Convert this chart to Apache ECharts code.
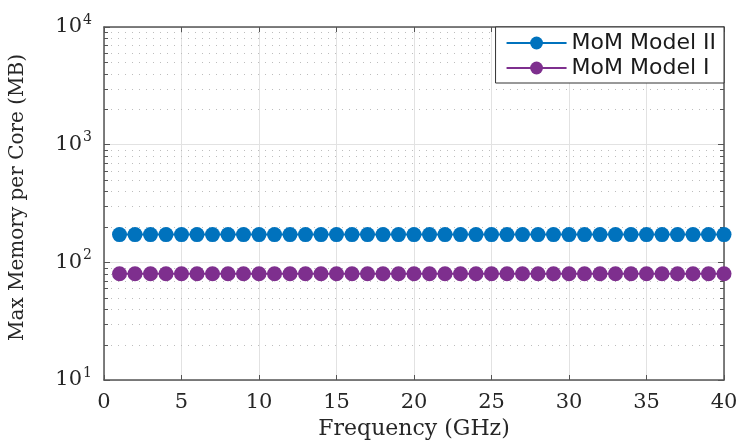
<!DOCTYPE html>
<html>
<head>
<meta charset="utf-8">
<script src="https://cdn.jsdelivr.net/npm/echarts@6/dist/echarts.min.js"></script>
<style>
  html, body { margin: 0; padding: 0; background: #fff; }
  #chart { width: 739px; height: 440px; }
</style>
</head>
<body>
<div id="chart"></div>
<script>
// Frequency samples (GHz)
const frequency = [1, 2, 3, 4, 5, 6, 7, 8, 9, 10, 11, 12, 13, 14, 15, 16, 17, 18, 19, 20,
                   21, 22, 23, 24, 25, 26, 27, 28, 29, 30, 31, 32, 33, 34, 35, 36, 37, 38, 39, 40];

// Maximum memory per core (MB)
const modelII = [172, 172, 172, 172, 172, 172, 172, 172, 172, 172, 172, 172, 172, 172, 172, 172, 172, 172, 172, 172,
                 172, 172, 172, 172, 172, 172, 172, 172, 172, 172, 172, 172, 172, 172, 172, 172, 172, 172, 172, 172];
const modelI = [80, 80, 80, 80, 80, 80, 80, 80, 80, 80, 80, 80, 80, 80, 80, 80, 80, 80, 80, 80,
                80, 80, 80, 80, 80, 80, 80, 80, 80, 80, 80, 80, 80, 80, 80, 80, 80, 80, 80, 80];

const seriesNames = ['MoM Model II', 'MoM Model I'];
const xTicks = [0, 5, 10, 15, 20, 25, 30, 35, 40];
const yDecades = [10, 100, 1000, 10000];
// log-decade minor grid positions
const yMinor = [20, 30, 40, 50, 60, 70, 80, 90,
                200, 300, 400, 500, 600, 700, 800, 900,
                2000, 3000, 4000, 5000, 6000, 7000, 8000, 9000];

const axisColor = '#555555';
const textColor = '#262626';
const serif = '"DejaVu Serif", "Liberation Serif", serif';

const chart = echarts.init(document.getElementById('chart'), null, { renderer: 'canvas' });

const option = {
  animation: false,
  backgroundColor: '#ffffff',
  grid: { left: 104, right: 15, top: 27, bottom: 60, containLabel: false, outerBoundsMode: 'none' },
  legend: {
    data: seriesNames,
    orient: 'vertical',
    right: 15,
    top: 27,
    backgroundColor: '#ffffff',
    borderColor: '#333333',
    borderWidth: 1,
    borderRadius: 0,
    padding: [5, 8, 4, 10],
    itemGap: 3,
    itemWidth: 60,
    itemHeight: 16,
    itemTextGap: 5,
    textStyle: { fontFamily: '"DejaVu Sans", sans-serif', fontSize: 22, color: '#1a1a1a' }
  },
  xAxis: [
    {
      type: 'value',
      min: xTicks[0],
      max: xTicks[xTicks.length - 1],
      interval: 5,
      name: 'Frequency (GHz)',
      nameLocation: 'middle',
      nameGap: 34,
      nameTextStyle: { fontFamily: serif, fontSize: 22, color: textColor },
      axisLine: { show: true, onZero: false, lineStyle: { color: axisColor, width: 1.5 } },
      axisTick: { show: true, inside: true, length: 5, lineStyle: { color: axisColor } },
      axisLabel: { margin: 12, fontFamily: serif, fontSize: 21, color: textColor },
      splitLine: { show: true, lineStyle: { color: '#e2e2e2', width: 1 } }
    },
    {
      type: 'value',
      position: 'top',
      min: xTicks[0],
      max: xTicks[xTicks.length - 1],
      interval: 5,
      axisLine: { show: true, onZero: false, lineStyle: { color: axisColor, width: 1.5 } },
      axisTick: { show: true, inside: true, length: 5, lineStyle: { color: axisColor } },
      axisLabel: { show: false },
      splitLine: { show: false }
    }
  ],
  yAxis: [
    {
      type: 'log',
      logBase: 10,
      min: yDecades[0],
      max: yDecades[yDecades.length - 1],
      name: 'Max Memory per Core (MB)',
      nameLocation: 'middle',
      nameRotate: 90,
      nameGap: 76,
      nameTextStyle: { fontFamily: serif, fontSize: 20, color: textColor, padding: [0, 0, 0, 12] },
      axisLine: { show: true, onZero: false, lineStyle: { color: axisColor, width: 1.5 } },
      axisTick: { show: true, inside: true, length: 6, lineStyle: { color: axisColor } },
      axisLabel: {
        margin: 12,
        fontFamily: serif,
        fontSize: 21,
        color: textColor,
        formatter: v => '{b|10}{e|' + Math.round(Math.log10(v)) + '}',
        rich: {
          b: { fontFamily: serif, fontSize: 21, color: textColor },
          e: { fontFamily: serif, fontSize: 14, color: textColor, padding: [0, 0, 14, 1] }
        }
      },
      splitLine: { show: true, lineStyle: { color: '#e2e2e2', width: 1 } }
    },
    {
      type: 'log',
      logBase: 10,
      position: 'right',
      min: yDecades[0],
      max: yDecades[yDecades.length - 1],
      axisLine: { show: true, onZero: false, lineStyle: { color: axisColor, width: 1.5 } },
      axisTick: { show: true, inside: true, length: 6, lineStyle: { color: axisColor } },
      axisLabel: { show: false },
      splitLine: { show: false }
    }
  ],
  series: [
    {
      // dotted minor grid with small inner ticks on both vertical axes
      type: 'custom',
      name: 'minor',
      silent: true,
      z: 1,
      xAxisIndex: 0,
      yAxisIndex: 0,
      data: yMinor.map(v => [xTicks[0], v]),
      encode: { x: 0, y: 1 },
      renderItem: (params, api) => {
        const cs = params.coordSys;
        const y = Math.round(api.coord([xTicks[0], api.value(1)])[1]) + 0.5;
        const x0 = cs.x, x1 = cs.x + cs.width;
        return {
          type: 'group',
          children: [
            { type: 'line', shape: { x1: x0, y1: y, x2: x1, y2: y },
              style: { stroke: '#bdbdbd', lineWidth: 1, lineDash: [1, 6] } },
            { type: 'line', shape: { x1: x0, y1: y, x2: x0 + 4, y2: y },
              style: { stroke: axisColor, lineWidth: 1 } },
            { type: 'line', shape: { x1: x1 - 4, y1: y, x2: x1, y2: y },
              style: { stroke: axisColor, lineWidth: 1 } }
          ]
        };
      }
    },
    {
      type: 'line',
      name: seriesNames[0],
      z: 3,
      data: frequency.map((f, i) => [f, modelII[i]]),
      symbol: 'circle',
      symbolSize: 15,
      showAllSymbol: true,
      itemStyle: { color: '#0072BD' },
      lineStyle: { color: '#0072BD', width: 2 }
    },
    {
      type: 'line',
      name: seriesNames[1],
      z: 3,
      data: frequency.map((f, i) => [f, modelI[i]]),
      symbol: 'circle',
      symbolSize: 15,
      showAllSymbol: true,
      itemStyle: { color: '#7E2F8E' },
      lineStyle: { color: '#7E2F8E', width: 2 }
    }
  ]
};

chart.setOption(option);
</script>
</body>
</html>
